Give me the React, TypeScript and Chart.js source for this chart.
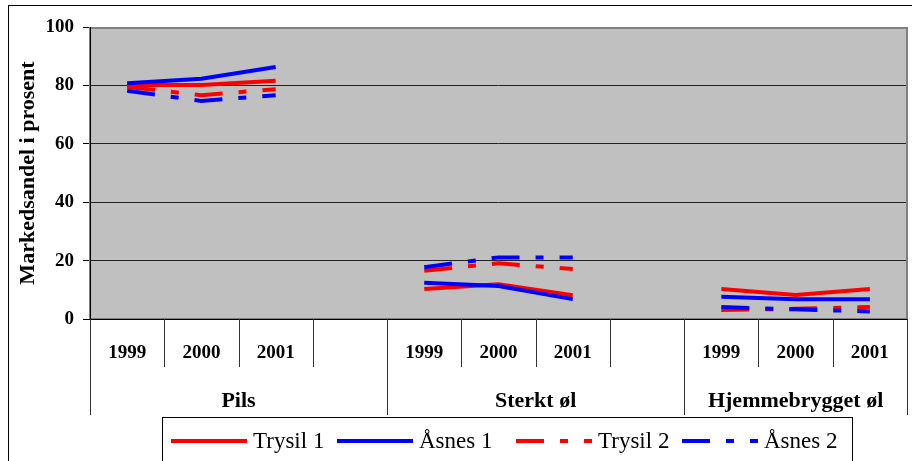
import React, { useEffect, useRef } from "react";
import { Chart, registerables } from "chart.js";

Chart.register(...registerables);

const categories = ["1999", "2000", "2001", "", "1999", "2000", "2001", "", "1999", "2000", "2001"];
const groupLabels = ["Pils", "Sterkt øl", "Hjemmebrygget øl"];
const groupStarts = [0, 4, 8];
const groupEnds = [3, 7, 10];
const yTicks = [0, 20, 40, 60, 80, 100];

const trysil1 = [80.1, 80.1, 81.6, null, 10.3, 11.9, 8.1, null, 10.3, 8.2, 10.3];
const asnes1 = [80.7, 82.3, 86.3, null, 12.4, 11.3, 6.8, null, 7.6, 6.8, 6.8];
const trysil2 = [79.5, 76.6, 78.7, null, 16.5, 19.1, 17.1, null, 3.1, 3.5, 4.1];
const asnes2 = [78.2, 74.7, 76.6, null, 17.7, 21.1, 21.1, null, 4.1, 3.3, 2.6];

const seriesNames = ["Trysil 1", "Åsnes 1", "Trysil 2", "Åsnes 2"];
const seriesColors = ["#FF0000", "#0000FF", "#FF0000", "#0000FF"];
const DASH = [28, 16, 8, 16];
const seriesDashed = [false, false, true, true];
const legendLineStarts = [171, 337, 516, 682];

const SERIF = "'Liberation Serif', 'Times New Roman', serif";

const decorPlugin = {
  id: "decor",
  beforeDraw(chart: any) {
    const { ctx, chartArea: ca, width, height } = chart;
    ctx.save();
    ctx.fillStyle = "#FFFFFF";
    ctx.fillRect(0, 0, width, height);
    ctx.fillStyle = "#C0C0C0";
    ctx.fillRect(ca.left, ca.top, ca.right - ca.left, ca.bottom - ca.top);
    ctx.restore();
  },
  beforeDatasetsDraw(chart: any) {
    const { ctx, chartArea: ca } = chart;
    ctx.save();
    ctx.strokeStyle = "#808080";
    ctx.lineWidth = 2;
    ctx.strokeRect(ca.left, ca.top + 1, ca.right - ca.left, ca.bottom - ca.top - 1);
    ctx.strokeStyle = "#000000";
    ctx.lineWidth = 1;
    ctx.beginPath();
    ctx.moveTo(ca.left + 0.5, ca.top);
    ctx.lineTo(ca.left + 0.5, ca.bottom);
    ctx.moveTo(ca.left - 7, ca.bottom + 0.5);
    ctx.lineTo(ca.right + 1, ca.bottom + 0.5);
    ctx.stroke();
    ctx.restore();
  },
  afterDraw(chart: any) {
    const { ctx, chartArea: ca, width } = chart;
    const xs = chart.scales.x;
    ctx.save();
    // outer border
    ctx.strokeStyle = "#000000";
    ctx.lineWidth = 1;
    ctx.strokeRect(8.5, 5.5, width + 10, 500);

    // category separators
    const n = categories.length;
    const step = xs.getPixelForValue(1) - xs.getPixelForValue(0);
    const longSet = new Set<number>([0, n]);
    groupStarts.forEach((s) => longSet.add(s));
    ctx.strokeStyle = "#333333";
    ctx.beginPath();
    for (let i = 0; i <= n; i++) {
      const x = Math.round(xs.getPixelForValue(0) - step / 2 + i * step) + 0.5;
      const bottom = longSet.has(i) ? 415 : 367;
      ctx.moveTo(x, ca.bottom);
      ctx.lineTo(x, bottom);
    }
    ctx.stroke();

    // year labels
    ctx.fillStyle = "#000000";
    ctx.font = `bold 19px ${SERIF}`;
    ctx.textAlign = "center";
    ctx.textBaseline = "middle";
    categories.forEach((c, i) => {
      if (c) ctx.fillText(c, xs.getPixelForValue(i), 353);
    });

    // group labels
    ctx.font = `bold 22px ${SERIF}`;
    groupLabels.forEach((g, gi) => {
      const l = xs.getPixelForValue(groupStarts[gi]) - step / 2;
      const r = xs.getPixelForValue(groupEnds[gi]) + step / 2;
      ctx.fillText(g, (l + r) / 2, 401);
    });

    // y title
    ctx.save();
    ctx.translate(28, (ca.top + ca.bottom) / 2);
    ctx.rotate(-Math.PI / 2);
    ctx.font = `bold 22px ${SERIF}`;
    ctx.fillText("Markedsandel i prosent", 0, 0);
    ctx.restore();

    // legend
    ctx.fillStyle = "#FFFFFF";
    ctx.fillRect(162, 417, 690, 60);
    ctx.strokeStyle = "#000000";
    ctx.lineWidth = 1;
    ctx.strokeRect(162.5, 417.5, 690, 60);
    ctx.font = `23px ${SERIF}`;
    ctx.textAlign = "left";
    ctx.textBaseline = "middle";
    seriesNames.forEach((name, i) => {
      const x0 = legendLineStarts[i];
      ctx.strokeStyle = seriesColors[i];
      ctx.lineWidth = 4;
      ctx.setLineDash(seriesDashed[i] ? DASH : []);
      ctx.beginPath();
      ctx.moveTo(x0, 441);
      ctx.lineTo(x0 + 76, 441);
      ctx.stroke();
      ctx.setLineDash([]);
      ctx.fillStyle = "#000000";
      ctx.fillText(name, x0 + 82, 442);
    });
    ctx.restore();
  },
};

export default function App() {
  const ref = useRef<HTMLCanvasElement | null>(null);
  useEffect(() => {
    if (!ref.current) return;
    const data = [trysil1, asnes1, trysil2, asnes2];
    const chart = new Chart(ref.current, {
      type: "line",
      data: {
        labels: categories,
        datasets: data.map((d, i) => ({
          label: seriesNames[i],
          data: d,
          borderColor: seriesColors[i],
          backgroundColor: seriesColors[i],
          borderWidth: 4,
          borderDash: seriesDashed[i] ? DASH : [],
          pointRadius: 0,
          pointHoverRadius: 0,
          tension: 0,
          spanGaps: false,
          fill: false,
          order: 4 - i,
        })),
      },
      options: {
        animation: false,
        responsive: false,
        devicePixelRatio: 1,
        events: [],
        layout: { padding: { left: 0, right: 5, top: 27, bottom: 142 } },
        plugins: { legend: { display: false }, tooltip: { enabled: false }, title: { display: false } },
        scales: {
          x: {
            type: "category",
            offset: true,
            grid: { display: false },
            border: { display: false },
            ticks: { display: false },
            afterFit: (s: any) => {
              s.height = 0;
            },
          },
          y: {
            min: 0,
            max: 100,
            afterBuildTicks: (s: any) => {
              s.ticks = yTicks.map((v) => ({ value: v }));
            },
            grid: { color: "#222222", lineWidth: 1, tickLength: 7, tickColor: "#000000", drawTicks: true },
            border: { display: false },
            ticks: {
              padding: 9,
              color: "#000000",
              font: { family: SERIF, size: 19, weight: "bold" },
            },
            afterFit: (s: any) => {
              s.width = 90;
            },
          },
        },
      },
      plugins: [decorPlugin],
    });
    return () => chart.destroy();
  }, []);
  return (
    <div style={{ position: "absolute", left: 0, top: 0, width: 912, height: 461, overflow: "hidden" }}>
      <canvas ref={ref} width={912} height={461} style={{ display: "block" }} />
    </div>
  );
}
